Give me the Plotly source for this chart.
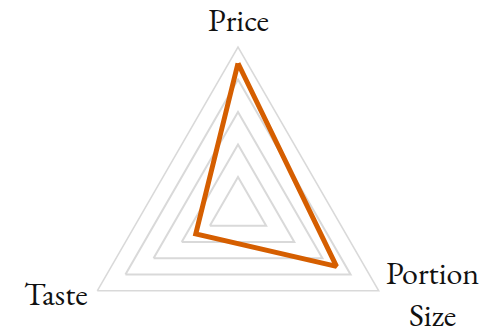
import plotly.graph_objects as go

categories = ["Price", "Portion<br>Size", "Taste"]
scores = [4.5, 3.5, 1.5]

fig = go.Figure()
fig.add_trace(go.Scatterpolar(
    r=scores + scores[:1],
    theta=categories + categories[:1],
    mode="lines",
    line=dict(color="#D55E00", width=5),
    showlegend=False,
    hoverinfo="skip",
))

# category labels placed by hand around the triangle (paper coords)
label_pos = [(0.501, 1.084, "center"), (0.922, 0.24, "center"), (0.178, 0.24, "right")]
for name, (x, y, anchor) in zip(categories, label_pos):
    fig.add_annotation(
        text=name, x=x, y=y, xref="paper", yref="paper",
        xanchor=anchor, yanchor="middle", showarrow=False, align="center",
    )

# page body adds an 8px margin, so shift everything up/left by that
fig.update_layout(
    width=487,
    height=372,
    margin=dict(l=0, r=27, t=39, b=8),
    paper_bgcolor="white",
    font=dict(family="EB Garamond, Garamond, Liberation Serif, serif", size=32, color="#111111"),
    polar=dict(
        bgcolor="white",
        gridshape="linear",
        radialaxis=dict(
            range=[0, 5], tickvals=[1, 2, 3, 4], showticklabels=False,
            ticks="", showline=False, gridcolor="#d9d9d9", gridwidth=1.5,
        ),
        angularaxis=dict(
            rotation=90, direction="clockwise", showgrid=False,
            showline=True, linecolor="#d9d9d9", linewidth=1.5,
            ticks="", showticklabels=False,
        ),
    ),
)

fig.write_html("out.html")
